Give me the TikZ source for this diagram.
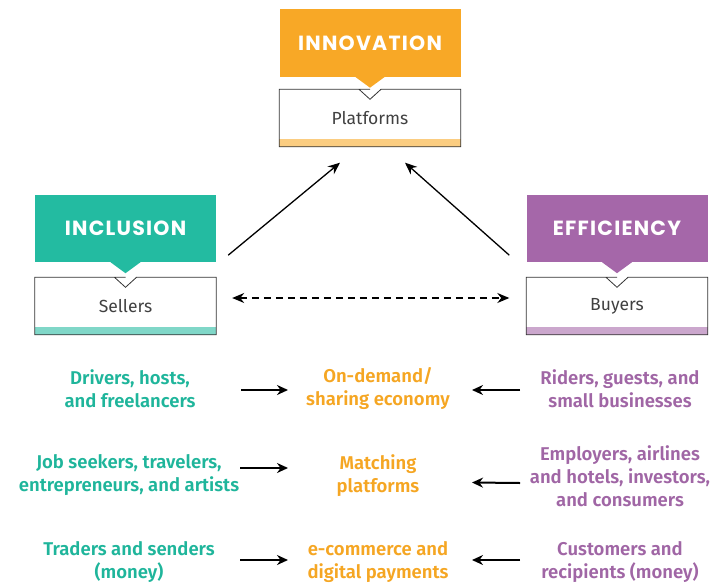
\documentclass[tikz,border=0pt]{standalone}
\usepackage{fontspec}
\setmainfont{Fira Sans}
\newfontfamily\headfont[LetterSpace=6]{Poppins}
\newfontfamily\rowfont[UprightFont=* SemiBold]{Fira Sans}
\usetikzlibrary{arrows.meta}
\definecolor{orng}{HTML}{F8A826}
\definecolor{teal}{HTML}{23BBA1}
\definecolor{purp}{HTML}{A567A9}
\definecolor{orngtx}{HTML}{F5A623}
\definecolor{tealtx}{HTML}{1FB59B}
\definecolor{purptx}{HTML}{A066A5}
\begin{document}
\begin{tikzpicture}[x=1pt,y=-1pt,
    head/.style={minimum width=181pt,minimum height=67pt,inner sep=0pt,text=white,
      font=\headfont\bfseries\fontsize{20.5}{20.5}\selectfont},
    actor/.style={minimum width=181pt,minimum height=57pt,inner sep=0pt,text=black!75,
      font=\fontsize{17.5}{17.5}\selectfont},
    row/.style={align=center,font=\rowfont\fontsize{18.5}{23}\selectfont},
    link/.style={-{Stealth[length=12pt,width=10pt]},line width=1.3pt},
    pair/.style={-{Stealth[length=11pt,width=10pt]},line width=2pt}]
    \useasboundingbox (0,0) rectangle (722,586);
    % the three pillars
    \foreach \h/\a/\x/\yh/\ya/\c/\hd/\lb in
      {inno/plat/370/43/118/orng/INNOVATION/Platforms,
       incl/sell/125.5/228.5/306/teal/INCLUSION/Sellers,
       effi/buy/617/228.5/306/purp/EFFICIENCY/Buyers}{
        \node[head,fill=\c] (\h) at (\x,\yh) {\hd};
        \fill[\c] ([xshift=-15pt]\h.south) -- ([yshift=-11pt]\h.south) -- ([xshift=15pt]\h.south) -- cycle;
        \node[actor] (\a) at (\x,\ya) {\lb};
        \fill[\c!58!white] (\a.south west) rectangle ([yshift=8pt]\a.south east);
        \draw[black!80,line width=.8pt] (\a.north) -- ++(-11,0) -| (\a.south west) -- (\a.south east)
          |- ([xshift=11pt]\a.north) -- ++(-11,10) -- ++(-11,-10);
    }
    % links between the pillars
    \draw[link] ([xshift=12pt,yshift=7pt]incl.south east) -- ([xshift=-30pt,yshift=-16pt]plat.south);
    \draw[link] ([xshift=-17pt,yshift=7pt]effi.south west) -- ([xshift=35pt,yshift=-16pt]plat.south);
    \draw[link,{Stealth[length=12pt,width=10pt]}-{Stealth[length=12pt,width=10pt]},dash pattern=on 7pt off 5pt]
      ([xshift=16pt,yshift=8pt]sell.east) -- ([xshift=-17pt,yshift=8pt]buy.west);
    % examples
    \node[row,text=tealtx] (drv) at (130,388.5) {Drivers, hosts,\\and freelancers};
    \node[row,text=orngtx] (dem) at (378,388.5) {On-demand/\\sharing economy};
    \node[row,text=purptx] (rid) at (620,388.5) {Riders, guests, and\\small businesses};
    \node[row,text=tealtx] (job) at (129,475.5) {Job seekers, travelers,\\entrepreneurs, and artists};
    \node[row,text=orngtx] (mat) at (378,475.5) {Matching\\platforms};
    \node[row,text=purptx] (emp) at (620,476) {Employers, airlines\\and hotels, investors,\\and consumers};
    \node[row,text=tealtx] (trd) at (129,562) {Traders and senders\\(money)};
    \node[row,text=orngtx] (ecm) at (378,562) {e-commerce and\\digital payments};
    \node[row,text=purptx] (cus) at (620,562) {Customers and\\recipients (money)};
    \foreach \l/\m/\r/\dl/\dr in {drv/dem/rid/1.5/1.5, job/mat/emp/-7.5/7, trd/ecm/cus/-2/-2}{
        \draw[pair] ([xshift=111pt,yshift=-\dl pt]\l.center) -- ([xshift=-90pt,yshift=-\dl pt]\m.center);
        \draw[pair] ([xshift=-100pt,yshift=-\dr pt]\r.center) -- ([xshift=94pt,yshift=-\dr pt]\m.center);
    }
\end{tikzpicture}
\end{document}
